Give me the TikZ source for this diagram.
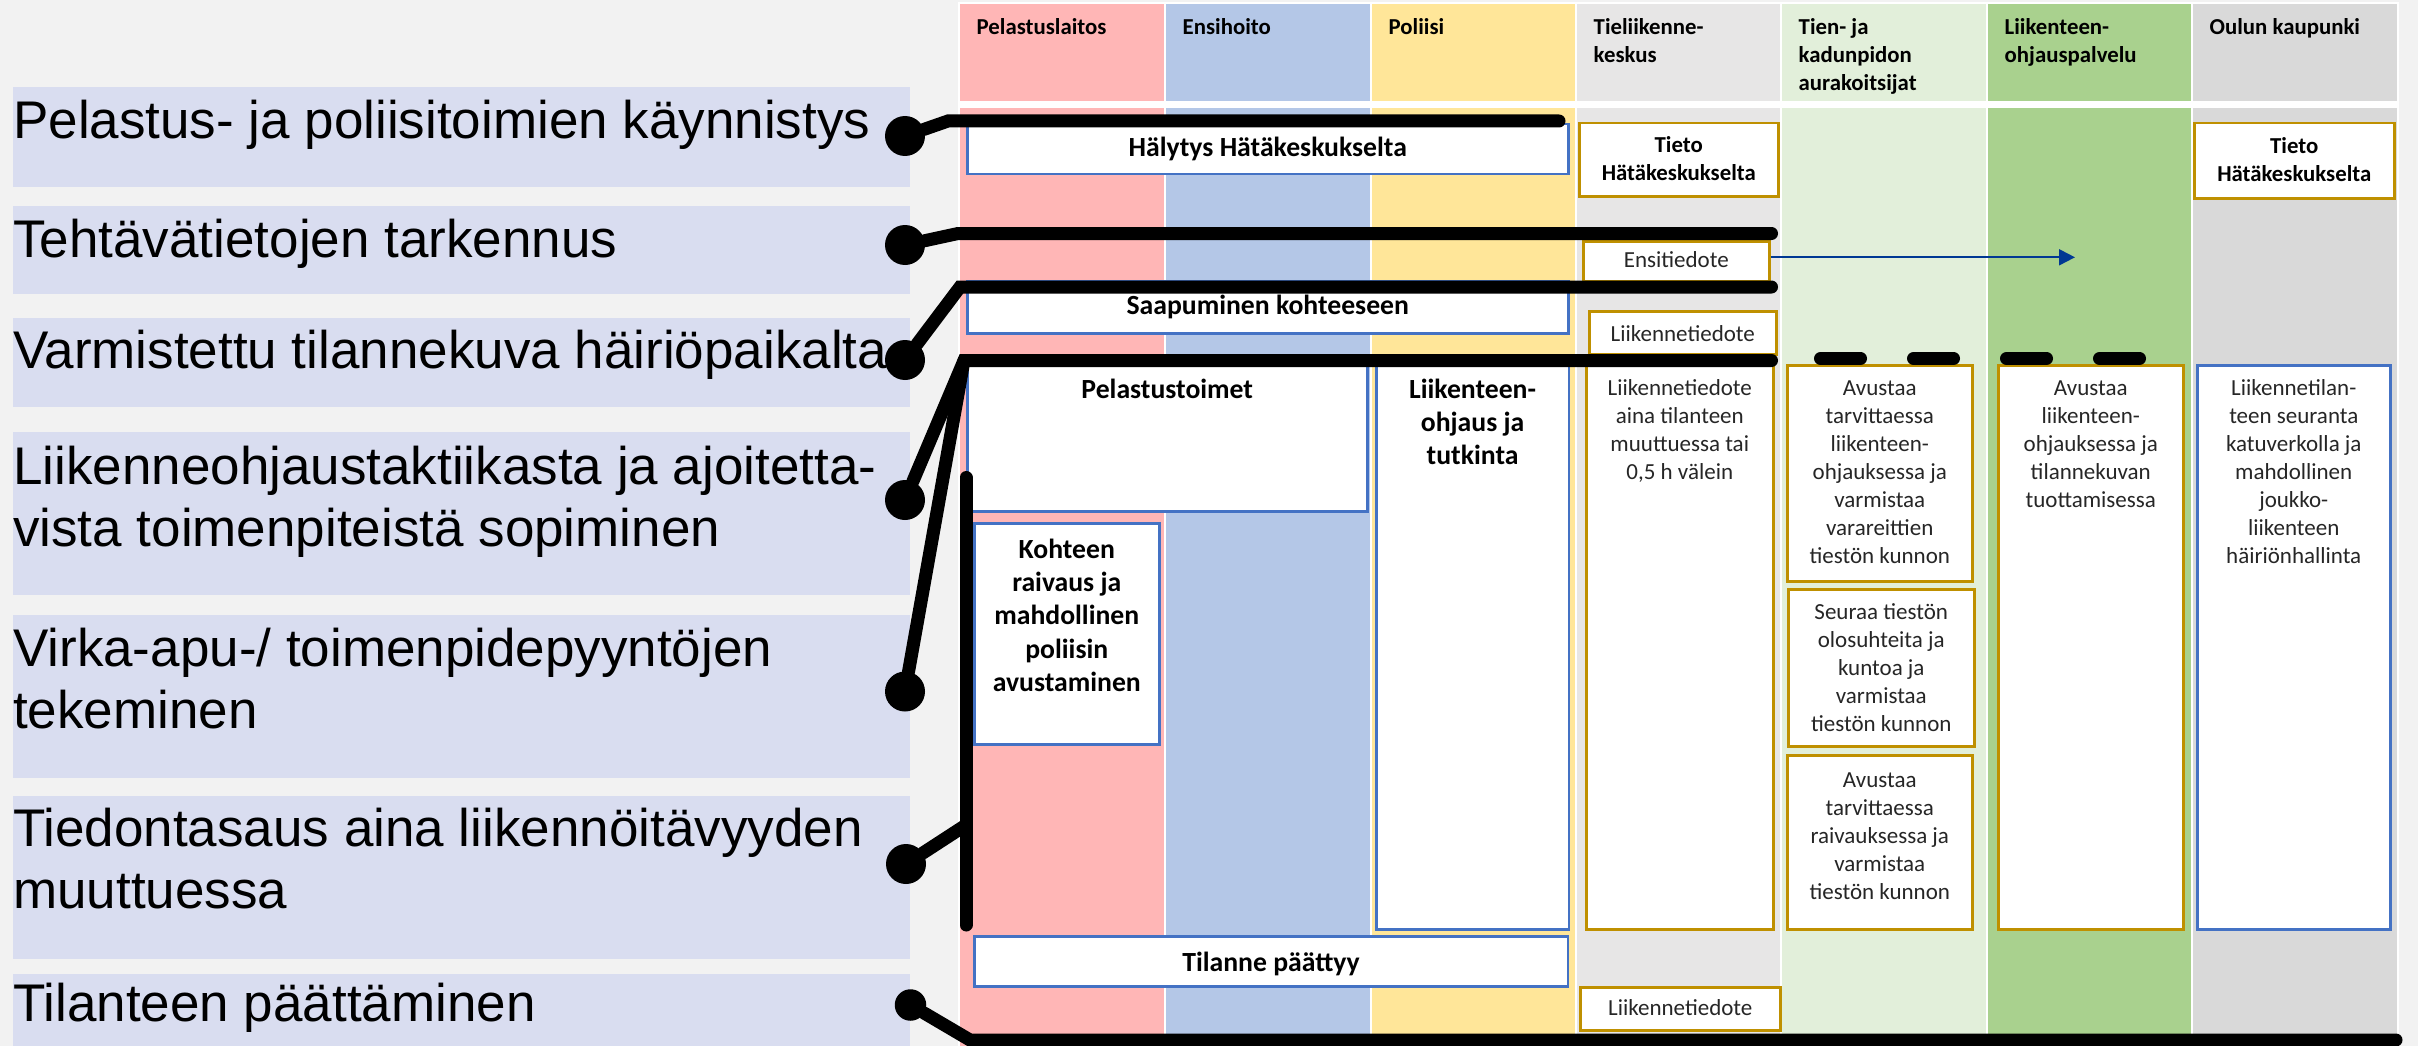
\documentclass[tikz,border=0pt]{standalone}
\usepackage{fontspec}
\setmainfont{Carlito}
\newfontfamily\arialf{Liberation Sans}
\usetikzlibrary{arrows.meta}
\definecolor{bgc}{RGB}{242,242,242}
\definecolor{lav}{RGB}{217,221,240}
\definecolor{cpel}{RGB}{255,182,182}
\definecolor{cens}{RGB}{180,199,231}
\definecolor{cpol}{RGB}{255,230,153}
\definecolor{ctie}{RGB}{231,230,230}
\definecolor{ctien}{RGB}{226,239,218}
\definecolor{clop}{RGB}{169,209,142}
\definecolor{coul}{RGB}{217,217,217}
\definecolor{bblue}{RGB}{68,114,196}
\definecolor{bgold}{RGB}{191,144,0}
\definecolor{arrblue}{RGB}{0,56,147}
\definecolor{txtg}{RGB}{38,38,38}
\newcommand\fntBig{\fontsize{27.7pt}{33.3pt}\selectfont\bfseries}
\newcommand\fntHead{\fontsize{22.8pt}{28pt}\selectfont\bfseries}
\newcommand\fntReg{\fontsize{23pt}{28pt}\selectfont\color{txtg}}
\newcommand\fntLab{\arialf\fontsize{53pt}{62pt}\selectfont}
% box text: width, height, font, top pad, text
\newcommand\tbx[5]{\parbox[c][#2pt][t]{#1pt}{#3\centering\vspace*{#4pt}\strut #5\par}}
% label text: width, height, top pad, text
\newcommand\lbx[4]{\parbox[c][#2pt][t]{#1pt}{\fntLab\raggedright\vspace*{#3pt}\strut #4\par}}
\begin{document}
\begin{tikzpicture}[x=1pt,y=-1pt,
  conn/.style={line width=13pt, line cap=round, draw=black},
  dot/.style={circle, fill=black, inner sep=0pt, minimum size=40pt},
  bbox/.style={draw=bblue, line width=2.5pt, fill=white, inner sep=0pt, anchor=north west},
  gbox/.style={draw=bgold, line width=2.5pt, fill=white, inner sep=0pt, anchor=north west},
  labbox/.style={fill=lav, inner sep=0pt, anchor=north west},
  head/.style={anchor=north west, inner sep=0pt, align=left, font=\fntHead}]
\useasboundingbox (0,0) rectangle (2418,1046);
\fill[bgc] (0,0) rectangle (2418,1046);
\fill[white] (958,2) rectangle (2399,1046);
% lanes
\foreach \xa/\xb/\cc in {960/1164/cpel, 1166/1370/cens, 1372/1575/cpol, 1577/1780/ctie, 1782/1986/ctien, 1988/2191/clop, 2193/2397/coul}{
  \fill[\cc] (\xa,4) rectangle (\xb,101);
  \fill[\cc] (\xa,108) rectangle (\xb,1046);
}
% headers
\node[head] (h1) at (976.5,14.4) {\strut Pelastuslaitos};
\node[head] (h2) at (1182.5,14.4) {\strut Ensihoito};
\node[head] (h3) at (1388.5,14.4) {\strut Poliisi};
\node[head] (h4) at (1593.5,14.4) {\strut Tieliikenne-\\keskus};
\node[head] (h5) at (1798.5,14.4) {\strut Tien- ja\\kadunpidon\\aurakoitsijat};
\node[head] (h6) at (2004.5,14.4) {\strut Liikenteen-\\ohjauspalvelu};
\node[head] (h7) at (2209.5,14.4) {\strut Oulun kaupunki};
% left labels
\node[labbox] (L1) at (13,87) {\lbx{897}{100}{7.6}{\mbox{Pelastus- ja poliisitoimien käynnistys}}};
\node[labbox] (L2) at (13,206) {\lbx{897}{88}{7.6}{\mbox{Tehtävätietojen tarkennus}}};
\node[labbox] (L3) at (13,318) {\lbx{897}{89}{6.6}{\mbox{Varmistettu tilannekuva häiriöpaikalta}}};
\node[labbox] (L4) at (13,432) {\lbx{897}{163}{8.6}{\mbox{Liikenneohjaustaktiikasta ja ajoitetta-}\\\mbox{vista toimenpiteistä sopiminen}}};
\node[labbox] (L5) at (13,615) {\lbx{897}{163}{7.6}{\mbox{Virka-apu-/ toimenpidepyyntöjen}\\\mbox{tekeminen}}};
\node[labbox] (L6) at (13,796) {\lbx{897}{163}{6.6}{\mbox{Tiedontasaus aina liikennöitävyyden}\\\mbox{muuttuessa}}};
\node[labbox] (L7) at (13,974) {\lbx{897}{72}{3.6}{\mbox{Tilanteen päättäminen}}};
% boxes in lanes
\node[bbox] (hal) at (966,123) {\tbx{601}{50}{\fntBig}{8.7}{Hälytys Hätäkeskukselta}};
\node[gbox] (tieto1) at (1578,122) {\tbx{199}{73}{\fntHead}{10.1}{Tieto\\Hätäkeskukselta}};
\node[gbox] (ensi) at (1582,240) {\tbx{186}{40}{\fntReg}{7.1}{Ensitiedote}};
\node[bbox] (saap) at (966,280) {\tbx{601}{52}{\fntBig}{9.7}{Saapuminen kohteeseen}};
\node[gbox] (liik1) at (1588,310) {\tbx{187}{43}{\fntReg}{10.8}{Liikennetiedote}};
\node[bbox] (pelt) at (966,364) {\tbx{400}{146}{\fntBig}{9.7}{Pelastustoimet}};
\node[bbox] (koht) at (973,522) {\tbx{185}{221}{\fntBig}{11.7}{Kohteen\\raivaus ja\\mahdollinen\\poliisin\\avustaminen}};
\node[bbox] (liikohj) at (1375,364) {\tbx{192.6}{564}{\fntBig}{9.7}{Liikenteen-\\ohjaus ja\\tutkinta}};
\node[bbox] (tilanne) at (973,935) {\tbx{593.5}{50}{\fntBig}{12.2}{Tilanne päättyy}};
\node[gbox] (liik2) at (1585,364) {\tbx{187}{564}{\fntReg}{10.4}{Liikennetiedote\\aina tilanteen\\muuttuessa tai\\0,5 h välein}};
\node[gbox] (liik3) at (1579,986) {\tbx{200}{43}{\fntReg}{8.4}{Liikennetiedote}};
\node[gbox] (tieto2) at (2193,122) {\tbx{200}{75}{\fntHead}{10.4}{Tieto\\Hätäkeskukselta}};
\node[gbox] (tienA) at (1786,364) {\tbx{185}{216}{\fntReg}{10.4}{Avustaa\\tarvittaessa\\liikenteen-\\ohjauksessa ja\\varmistaa\\varareittien\\tiestön kunnon}};
\node[gbox] (tienB) at (1787,588) {\tbx{186}{157}{\fntReg}{10.4}{Seuraa tiestön\\olosuhteita ja\\kuntoa ja\\varmistaa\\tiestön kunnon}};
\node[gbox] (tienC) at (1786,754) {\tbx{185}{174}{\fntReg}{12.4}{Avustaa\\tarvittaessa\\raivauksessa ja\\varmistaa\\tiestön kunnon}};
\node[gbox] (lop) at (1997,364) {\tbx{185}{564}{\fntReg}{10.4}{Avustaa\\liikenteen-\\ohjauksessa ja\\tilannekuvan\\tuottamisessa}};
\node[bbox] (oulu) at (2196,364) {\tbx{193}{564}{\fntReg}{10.4}{Liikennetilan-\\teen seuranta\\katuverkolla ja\\mahdollinen\\joukko-\\liikenteen\\häiriönhallinta}};
% arrow
\coordinate (aend) at (2075,257.3);
\draw[arrblue, line width=2pt, -{Triangle[length=16pt,width=16pt]}] (ensi.east |- aend) -- (aend);
% dots
\node[dot] (d1) at (905,136) {};
\node[dot] (d2) at (905,245) {};
\node[dot] (d3) at (905,360) {};
\node[dot] (d4) at (905,500) {};
\node[dot] (d5) at (905,691.5) {};
\node[dot] (d6) at (906,864) {};
\node[dot, minimum size=31.5pt] (d7) at (910.5,1005) {};
% connector coordinates
\coordinate (c1) at (948,121);    \coordinate (e1) at (1559,121);
\coordinate (c2) at (958,233.5);  \coordinate (e2) at (1771.5,233.5);
\coordinate (c3) at (960,287);    \coordinate (e3) at (1771.5,287);
\coordinate (c4) at (964,360.5);  \coordinate (e4) at (1771.5,360.5);
\coordinate (vt) at (966,477.5);  \coordinate (vb) at (966,925);
\coordinate (c6) at (966,825);
\coordinate (c7) at (970,1040);   \coordinate (e7) at (2396,1040);
\coordinate (ds) at (1820.5,358.5); \coordinate (de) at (2141,358.5);
% connectors
\draw[conn] (d1) -- (c1) -- (e1);
\draw[conn] (d2) -- (c2) -- (e2);
\draw[conn] (d3) -- (c3) -- (e3);
\draw[conn] (d4) -- (c4) -- (e4);
\draw[conn] (d5) -- (c4);
\draw[conn] (vt) -- (vb);
\draw[conn] (d6) -- (c6);
\draw[conn] (d7) -- (c7) -- (e7);
\draw[conn, dash pattern=on 40pt off 53pt] (ds) -- (de);
\end{tikzpicture}
\end{document}
